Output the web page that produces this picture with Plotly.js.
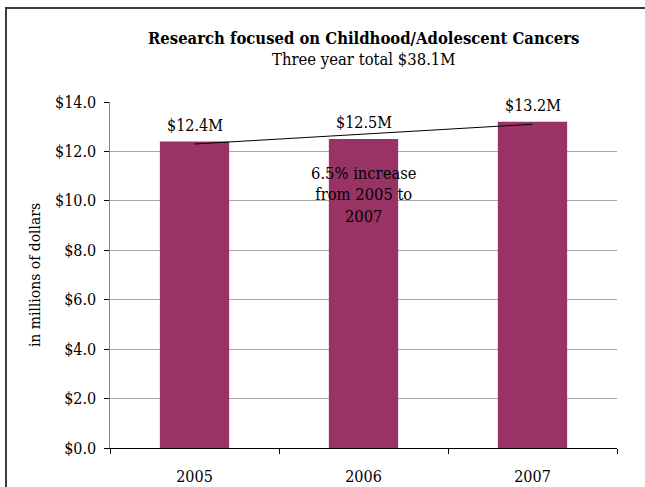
<!DOCTYPE html>
<html>
<head>
<meta charset="utf-8">
<script src="https://cdn.plot.ly/plotly-3.0.1.min.js"></script>
<style>
html,body{margin:0;padding:0;background:#fff;}
#wrap{position:relative;width:645px;height:487px;overflow:hidden;}
#chart{width:645px;height:487px;}
#frame{position:absolute;left:5px;top:7px;width:700px;height:500px;border:2px solid #3c3c3c;pointer-events:none;box-sizing:border-box;}
</style>
</head>
<body>
<div id="wrap"><div id="chart"></div><div id="frame"></div></div>
<script>
const years = ['2005', '2006', '2007'];
const funding = [12.4, 12.5, 13.2];
const valueLabels = ['$12.4M', '$12.5M', '$13.2M'];
const trendYears = ['2005', '2007'];
const trendValues = [12.3, 13.1];
const noteText = '6.5% increase<br>from 2005 to<br>2007';
const noteYear = '2006';
const noteValue = 10.25;
const titleMain = 'Research focused on Childhood/Adolescent Cancers';
const titleSub = 'Three year total $38.1M';
const yTitle = 'in millions of dollars';

const FONT = 'DejaVu Serif Condensed, DejaVu Serif, serif';

const traces = [
  {
    type: 'bar', x: years, y: funding,
    marker: {color: '#993366'},
    hoverinfo: 'none', showlegend: false
  },
  {
    type: 'scatter', mode: 'lines',
    x: trendYears.map(y => years.indexOf(y)), y: trendValues,
    xaxis: 'x2', yaxis: 'y',
    line: {color: '#000', width: 1},
    hoverinfo: 'none', showlegend: false
  }
];

const annotations = years.map((yr, i) => ({
  x: years.indexOf(yr), y: funding[i], xref: 'x', yref: 'y',
  text: valueLabels[i], showarrow: false,
  yanchor: 'bottom', yshift: 5,
  font: {family: FONT, size: 16, color: '#000'}
}));
annotations.push({
  x: years.indexOf(noteYear), y: noteValue, xref: 'x', yref: 'y',
  text: noteText, showarrow: false, align: 'center',
  font: {family: FONT, size: 16.4, color: '#000'}
});
annotations.push({
  x: 0.5, y: 1, xref: 'paper', yref: 'paper', yanchor: 'bottom', yshift: 52,
  text: '<b>' + titleMain + '</b>', showarrow: false,
  font: {family: FONT, size: 16.5, color: '#000'}
});
annotations.push({
  x: 0.5, y: 1, xref: 'paper', yref: 'paper', yanchor: 'bottom', yshift: 31,
  text: titleSub, showarrow: false,
  font: {family: FONT, size: 16.5, color: '#000'}
});

const layout = {
  width: 645, height: 487,
  margin: {l: 110, r: 28, t: 102, b: 39},
  paper_bgcolor: '#fff', plot_bgcolor: '#fff',
  font: {family: FONT, size: 16, color: '#000'},
  bargap: 0.59,
  xaxis: {
    type: 'category', categoryorder: 'array', categoryarray: years,
    range: [-0.5, 2.5], autorange: false,
    showline: false,
    ticks: 'outside', ticklen: 14, tickcolor: 'rgba(0,0,0,0)',
    showgrid: false, zeroline: false,
    tickfont: {family: FONT, size: 16, color: '#000'}
  },
  xaxis2: {
    overlaying: 'x', anchor: 'y', side: 'bottom', type: 'linear',
    range: [-0.5, 2.5], autorange: false,
    tickmode: 'array', tickvals: [-0.5, 0.5, 1.5, 2.5],
    ticks: 'outside', ticklen: 5, tickcolor: '#000', tickwidth: 1,
    showline: true, linecolor: '#000', linewidth: 1,
    showticklabels: false, showgrid: false, zeroline: false
  },
  yaxis: {
    range: [0, 14], autorange: false, dtick: 2, tickprefix: '$', tickformat: '.1f',
    ticksuffix: '\u00a0',
    showline: true, linecolor: '#868686', linewidth: 1,
    ticks: 'outside', ticklen: 5, tickcolor: '#000', tickwidth: 1,
    showgrid: true, gridcolor: '#a6a6a6', gridwidth: 1, zeroline: false,
    tickfont: {family: FONT, size: 16, color: '#000'},
    title: {text: yTitle, standoff: 10, font: {family: FONT, size: 15.5, color: '#000'}}
  },
  annotations: annotations
};

Plotly.newPlot('chart', traces, layout, {staticPlot: true, displayModeBar: false});
</script>
</body>
</html>
